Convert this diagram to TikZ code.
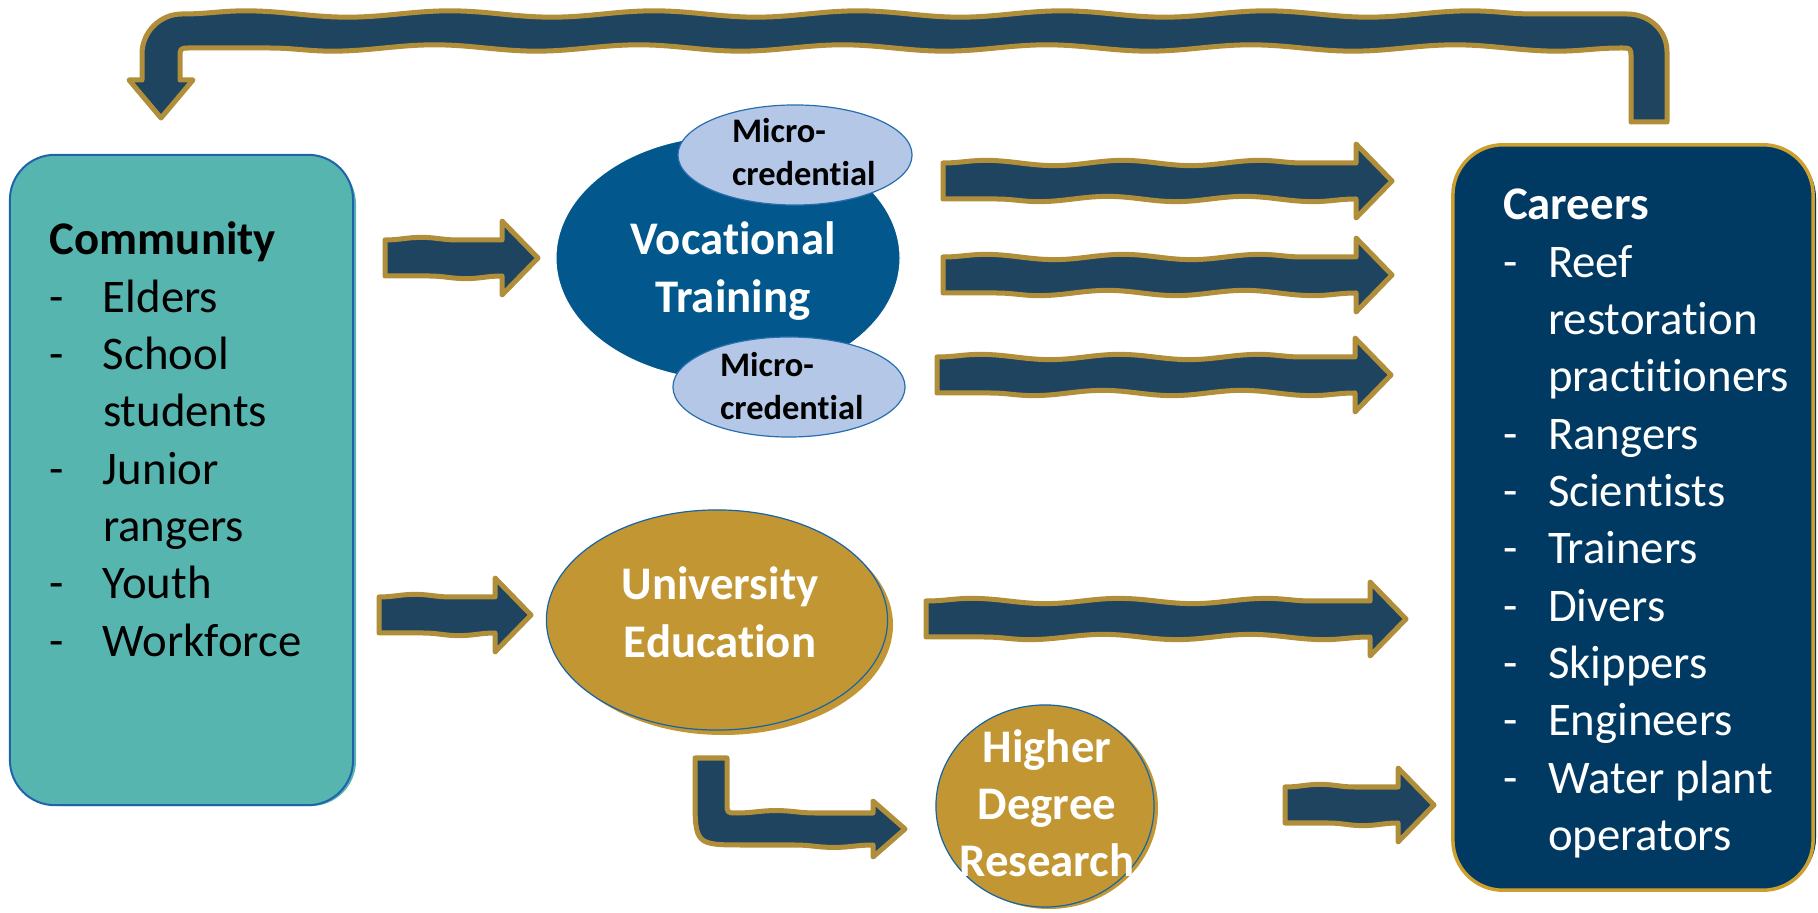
\documentclass[tikz,border=0pt]{standalone}
\usepackage{fontspec}
\setmainfont{Carlito}[Ligatures={NoCommon}]
\usetikzlibrary{calc,shapes.geometric,decorations.pathmorphing}
\definecolor{commfill}{RGB}{87,181,176}
\definecolor{commline}{RGB}{30,100,170}
\definecolor{carfill}{RGB}{0,58,99}
\definecolor{cargold}{RGB}{205,160,45}
\definecolor{arrownavy}{RGB}{31,68,96}
\definecolor{arrowgold}{RGB}{176,142,58}
\definecolor{vocblue}{RGB}{2,88,140}
\definecolor{microfill}{RGB}{180,199,231}
\definecolor{microline}{RGB}{40,110,175}
\definecolor{unigold}{RGB}{194,150,50}
\definecolor{ellline}{RGB}{20,100,170}
\newcommand\commitem[1]{\makebox[0.53cm][l]{-}#1}
\newcommand\commcont[1]{\hspace*{0.53cm}#1}
\newcommand\caritem[1]{\makebox[0.45cm][l]{-}#1}
\newcommand\carcont[1]{\hspace*{0.45cm}#1}
% #1 start, #2 tip, #3 shaft half, #4 head half, #5 head length, #6 wave length
\newcommand\blockarrow[6]{%
  \draw[barrow, decoration={snake, amplitude=0.75pt, segment length=#6}]
    ($(#1)+(0,-#3)$) decorate {-- ($(#2)+(-#5,-#3)$)}
    -- ($(#2)+(-#5,-#4)$) -- (#2) -- ($(#2)+(-#5,#4)$) -- ($(#2)+(-#5,#3)$)
    decorate {-- ($(#1)+(0,#3)$)} -- cycle;}
\begin{document}
\begin{tikzpicture}[x=0.01cm,y=-0.01cm,
  bigfont/.style={font=\fontsize{13.3}{16.3}\selectfont},
  smallfont/.style={font=\fontsize{9.8}{11.95}\selectfont\bfseries},
  barrow/.style={fill=arrownavy, draw=arrowgold, line width=0.05cm, line join=round},
  txt/.style={inner sep=0pt, outer sep=0pt},
]
\useasboundingbox (0,0) rectangle (1818,913);

% ---- boxes ----
\fill[commfill, rounded corners=0.45cm] (14,159) rectangle (356,806);
\node[draw=commline, line width=0.02cm, fill=commfill, rounded corners=0.45cm,
      minimum width=3.43cm, minimum height=6.5cm, inner sep=0pt] (comm) at (181.5,480) {};
\fill[carfill, rounded corners=0.5cm] (1458,148) rectangle (1816,888);
\node[draw=cargold, line width=0.035cm, fill=carfill, rounded corners=0.5cm,
      minimum width=3.6cm, minimum height=7.45cm, inner sep=0pt] (car) at (1633,517.5) {};

\node[txt, bigfont, anchor=base west] (commtext) at (50,255) {%
  \begin{tabular}[t]{@{}l@{}}
  \textbf{Community}\\
  \commitem{Elders}\\
  \commitem{School}\\
  \commcont{students}\\
  \commitem{Junior}\\
  \commcont{rangers}\\
  \commitem{Youth}\\
  \commitem{Workforce}
  \end{tabular}};

\node[txt, bigfont, text=white, anchor=base west] (cartext) at (1503,220) {%
  \begin{tabular}[t]{@{}l@{}}
  \textbf{Careers}\\
  \caritem{Reef}\\
  \carcont{restoration}\\
  \carcont{practitioners}\\
  \caritem{Rangers}\\
  \caritem{Scientists}\\
  \caritem{Trainers}\\
  \caritem{Divers}\\
  \caritem{Skippers}\\
  \caritem{Engineers}\\
  \caritem{Water plant}\\
  \carcont{operators}
  \end{tabular}};

% ---- vocational ----
\node[ellipse, fill=vocblue, draw=white, line width=0.012cm, minimum width=3.44cm, minimum height=2.44cm, inner sep=0pt] (voc) at (728,258) {};
\node[txt, bigfont, text=white, anchor=base] (voctext) at (733,255) {%
  \begin{tabular}[t]{@{}c@{}}\textbf{Vocational}\\ \textbf{Training}\end{tabular}};

\node[ellipse, fill=microfill, draw=microline, line width=0.012cm, minimum width=2.34cm, minimum height=1.0cm, inner sep=0pt] (mc1) at (795,155) {};
\node[txt, smallfont, anchor=base west] (mc1text) at (732,143) {%
  \begin{tabular}[t]{@{}l@{}}Micro-\\ credential\end{tabular}};

\node[ellipse, fill=microfill, draw=microline, line width=0.012cm, minimum width=2.32cm, minimum height=1.0cm, inner sep=0pt] (mc2) at (789,387) {};
\node[txt, smallfont, anchor=base west] (mc2text) at (720,377) {%
  \begin{tabular}[t]{@{}l@{}}Micro-\\ credential\end{tabular}};

% ---- university ----
\fill[unigold] (723,625) ellipse [x radius=170, y radius=110];
\node[ellipse, fill=unigold, draw=ellline, line width=0.012cm, minimum width=3.41cm, minimum height=2.2cm, inner sep=0pt] (uni) at (717,620) {};
\node[txt, bigfont, text=white, anchor=base] (unitext) at (720,600) {%
  \begin{tabular}[t]{@{}c@{}}\textbf{University}\\ \textbf{Education}\end{tabular}};

% ---- higher degree research ----
\fill[unigold] (1049,808) ellipse [x radius=109, y radius=101];
\node[ellipse, fill=unigold, draw=ellline, line width=0.012cm, minimum width=2.18cm, minimum height=2.02cm, inner sep=0pt] (hdr) at (1045,806) {};
\node[txt, bigfont, text=white, anchor=base] (hdrtext) at (1047,762) {%
  \begin{tabular}[t]{@{}c@{}}\textbf{Higher}\\ \textbf{Degree}\\ \textbf{Research}\end{tabular}};

% ---- arrow end points ----
\coordinate (a1) at (385,258);  \coordinate (a2) at (538,258);
\coordinate (b1) at (379,615);  \coordinate (b2) at (531,615);
\coordinate (c11) at (943,181); \coordinate (c12) at (1392,181);
\coordinate (c21) at (943,275); \coordinate (c22) at (1392,275);
\coordinate (c31) at (937,375); \coordinate (c32) at (1391,375);
\coordinate (d1) at (926,619);  \coordinate (d2) at (1406,619);
\coordinate (e1) at (1285,805); \coordinate (e2) at (1434,805);
\coordinate (f1) at (711,758);  \coordinate (f2) at (905,829);
\coordinate (gs) at (1649,122); \coordinate (gt) at (161,118);
\coordinate (gbar) at (900,31);

% ---- straight block arrows ----
\blockarrow{a1}{a2}{18}{37}{36}{1.16cm}
\blockarrow{b1}{b2}{18}{37}{36}{1.15cm}
\blockarrow{c11}{c12}{18}{37}{36}{1.37cm}
\blockarrow{c21}{c22}{18}{37}{36}{1.37cm}
\blockarrow{c31}{c32}{18}{37}{36}{1.39cm}
\blockarrow{d1}{d2}{18}{37}{36}{1.47cm}
\blockarrow{e1}{e2}{18}{37}{36}{1.12cm}

% ---- bent arrow university -> HDR ----
\draw[barrow, decoration={snake, amplitude=0.7pt, segment length=1.25cm}]
  ($(f1)+(-16,0)$) -- ($(f1)+(16,0)$) -- ($(f1|-f2)+(16,-26)$)
  .. controls ($(f1|-f2)+(16,-16)$) .. ($(f1|-f2)+(26,-16)$)
  decorate {-- ($(f2)+(-32,-16)$)}
  -- ($(f2)+(-32,-28)$) -- (f2) -- ($(f2)+(-32,28)$) -- ($(f2)+(-32,16)$)
  decorate {-- ($(f1|-f2)+(34,16)$)}
  .. controls ($(f1|-f2)+(-16,16)$) .. ($(f1|-f2)+(-16,-34)$)
  -- cycle;

% ---- feedback loop careers -> community ----
\draw[barrow, decoration={snake, amplitude=0.9pt, segment length=2.04cm}]
  ($(gs)+(-18,0)$) -- ($(gs|-gbar)+(-18,27)$)
  .. controls ($(gs|-gbar)+(-18,17)$) .. ($(gs|-gbar)+(-28,17)$)
  decorate {-- ($(gt|-gbar)+(29,17)$)}
  .. controls ($(gt|-gbar)+(19,17)$) .. ($(gt|-gbar)+(19,27)$)
  -- ($(gt)+(19,-38)$) -- ($(gt)+(32,-38)$) -- (gt)
  -- ($(gt)+(-32,-38)$) -- ($(gt)+(-19,-38)$)
  -- ($(gt|-gbar)+(-19,23)$)
  .. controls ($(gt|-gbar)+(-19,1)$) and ($(gt|-gbar)+(-1,-17)$) .. ($(gt|-gbar)+(21,-17)$)
  decorate {-- ($(gs|-gbar)+(-22,-17)$)}
  .. controls ($(gs|-gbar)+(0,-17)$) and ($(gs|-gbar)+(18,-1)$) .. ($(gs|-gbar)+(18,21)$)
  -- ($(gs)+(18,0)$) -- cycle;
\end{tikzpicture}
\end{document}
